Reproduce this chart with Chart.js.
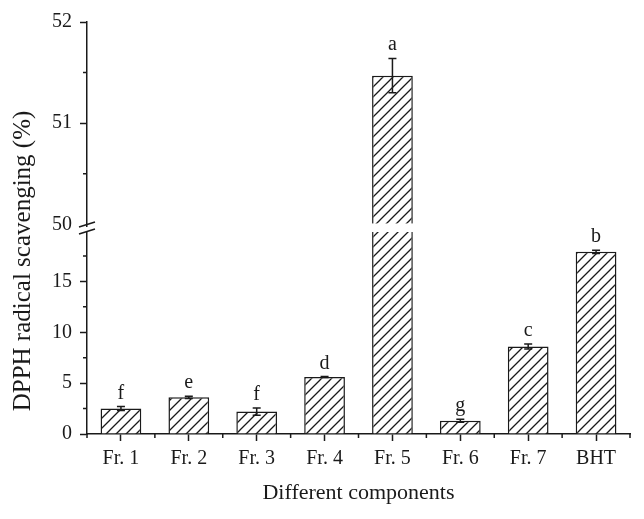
<!DOCTYPE html>
<html>
<head>
<meta charset="utf-8">
<script src="https://cdn.jsdelivr.net/npm/chart.js@4.4.1/dist/chart.umd.min.js"></script>
<style>
  body { margin: 0; background: #fff; }
  #wrap { width: 644px; height: 519px; }
</style>
</head>
<body>
<div id="wrap"><canvas id="dpphChart" width="644" height="519"></canvas></div>
<script>
// values
const categories = ['Fr. 1', 'Fr. 2', 'Fr. 3', 'Fr. 4', 'Fr. 5', 'Fr. 6', 'Fr. 7', 'BHT'];
const scavenging = [2.5, 3.6, 2.2, 5.6, 51.47, 1.3, 8.6, 17.9];
const errors = [0.2, 0.1, 0.35, 0.05, 0.17, 0.15, 0.25, 0.15];
const letters = ['f', 'e', 'f', 'd', 'a', 'g', 'c', 'b'];
const lowTicks = [0, 5, 10, 15];
const lowMinor = [2.5, 7.5, 12.5, 17.5];
const highTicks = [50, 51, 52];
const highMinor = [50.5, 51.5];
const lowMax = 20;
const highMin = 49.94;

const ink = '#1a1a1a';
const serif = '"Liberation Serif", "DejaVu Serif", serif';

function makeHatch() {
  const c = document.createElement('canvas');
  c.width = 10; c.height = 10;
  const g = c.getContext('2d');
  g.fillStyle = '#fff';
  g.fillRect(0, 0, 10, 10);
  g.strokeStyle = ink;
  g.lineWidth = 1.3;
  g.beginPath();
  g.moveTo(-1, 11); g.lineTo(11, -1);
  g.moveTo(-1, 1); g.lineTo(1, -1);
  g.moveTo(9, 11); g.lineTo(11, 9);
  g.stroke();
  return g.createPattern(c, 'repeat');
}

const hatch = makeHatch();
const lowData = scavenging.map(v => v > lowMax ? lowMax : v);
const highData = scavenging.map(v => v > lowMax ? v : null);

const barStyle = {
  backgroundColor: hatch,
  borderColor: ink,
  borderWidth: 1.5,
  barPercentage: 0.6,
  categoryPercentage: 1,
  grouped: false
};

const extras = {
  id: 'extras',
  afterDatasetsDraw(chart) {
    const ctx = chart.ctx;
    const xs = chart.scales.x, lo = chart.scales.yLow, hi = chart.scales.yHigh;
    const bars = chart.getDatasetMeta(0).data;
    ctx.save();
    // white gap through the broken bar
    scavenging.forEach((v, i) => {
      if (v <= lowMax) return;
      const b = bars[i];
      const top = hi.getPixelForValue(50) - 1;
      ctx.fillStyle = '#fff';
      ctx.fillRect(b.x - b.width / 2 - 2, top, b.width + 4, lo.top + 1.5 - top);
    });
    // error bars and letters
    ctx.strokeStyle = ink;
    ctx.lineWidth = 1.5;
    ctx.fillStyle = ink;
    ctx.font = '20px ' + serif;
    ctx.textAlign = 'center';
    ctx.textBaseline = 'alphabetic';
    scavenging.forEach((v, i) => {
      const ys = v > lowMax ? hi : lo;
      const x = xs.getPixelForValue(i);
      const top = ys.getPixelForValue(v + errors[i]);
      const bot = ys.getPixelForValue(v - errors[i]);
      ctx.beginPath();
      ctx.moveTo(x, top); ctx.lineTo(x, bot);
      ctx.moveTo(x - 4, top); ctx.lineTo(x + 4, top);
      ctx.moveTo(x - 4, bot); ctx.lineTo(x + 4, bot);
      ctx.stroke();
      ctx.fillText(letters[i], x, top - 8);
    });
    ctx.restore();
  },
  afterDraw(chart) {
    const ctx = chart.ctx;
    const xs = chart.scales.x, lo = chart.scales.yLow, hi = chart.scales.yHigh;
    const ax = lo.right;
    const b = lo.top;
    ctx.save();
    ctx.strokeStyle = ink;
    ctx.lineWidth = 1.5;
    // minor ticks
    ctx.beginPath();
    lowMinor.forEach(v => { const y = lo.getPixelForValue(v); ctx.moveTo(ax - 4, y); ctx.lineTo(ax, y); });
    highMinor.forEach(v => { const y = hi.getPixelForValue(v); ctx.moveTo(ax - 4, y); ctx.lineTo(ax, y); });
    for (let i = 0; i <= categories.length; i++) {
      const x = xs.getPixelForValue(i - 0.5);
      ctx.moveTo(x, xs.top); ctx.lineTo(x, xs.top + 4);
    }
    ctx.stroke();
    // axis break
    ctx.fillStyle = '#fff';
    ctx.fillRect(ax - 3, b - 3.5, 6, 5);
    ctx.beginPath();
    ctx.moveTo(ax - 8, b - 3.5); ctx.lineTo(ax + 8, b - 8.5);
    ctx.moveTo(ax - 8, b + 3.5); ctx.lineTo(ax + 8, b - 1.5);
    ctx.stroke();
    // y title
    ctx.fillStyle = ink;
    ctx.font = '25px ' + serif;
    ctx.textAlign = 'center';
    ctx.textBaseline = 'middle';
    ctx.translate(23, (chart.chartArea.top + chart.chartArea.bottom) / 2 + 33);
    ctx.rotate(-Math.PI / 2);
    ctx.fillText('DPPH radical scavenging (%)', 0, 0);
    ctx.restore();
  }
};

function yAxis(weight, min, max, tickValues) {
  return {
    type: 'linear',
    position: 'left',
    stack: 'dpph',
    stackWeight: weight,
    min: min,
    max: max,
    afterBuildTicks: s => { s.ticks = tickValues.map(v => ({ value: v })); },
    afterFit: s => { s.width = 87; },
    ticks: { color: ink, font: { family: serif, size: 20 }, padding: 8 },
    grid: {
      drawOnChartArea: false,
      tickLength: 7,
      tickWidth: 1.5,
      tickColor: c => (c.tick && c.tick.value === 50) ? 'rgba(0,0,0,0)' : ink
    },
    border: { color: ink, width: 1.5 }
  };
}

const ctx = document.getElementById('dpphChart').getContext('2d');
new Chart(ctx, {
  type: 'bar',
  data: {
    labels: categories,
    datasets: [
      Object.assign({ data: lowData, yAxisID: 'yLow' }, barStyle),
      Object.assign({ data: highData, yAxisID: 'yHigh' }, barStyle)
    ]
  },
  options: {
    responsive: false,
    animation: false,
    devicePixelRatio: 1,
    layout: { padding: { top: 22, right: 14, left: 0, bottom: 0 } },
    plugins: {
      legend: { display: false },
      tooltip: { enabled: false },
      colors: { enabled: false }
    },
    scales: {
      x: {
        afterFit: s => { s.height = 85; },
        ticks: { color: ink, font: { family: serif, size: 20 }, padding: 6, maxRotation: 0 },
        grid: { offset: false, drawOnChartArea: false, tickLength: 7, tickWidth: 1.5, tickColor: ink },
        border: { color: ink, width: 1.5 },
        title: {
          display: true,
          text: 'Different components',
          color: ink,
          font: { family: serif, size: 22 },
          padding: { top: 4, bottom: 13 }
        }
      },
      yLow: yAxis(203, 0, lowMax, lowTicks),
      yHigh: yAxis(208, highMin, 52, highTicks)
    }
  },
  plugins: [extras]
});
</script>
</body>
</html>
